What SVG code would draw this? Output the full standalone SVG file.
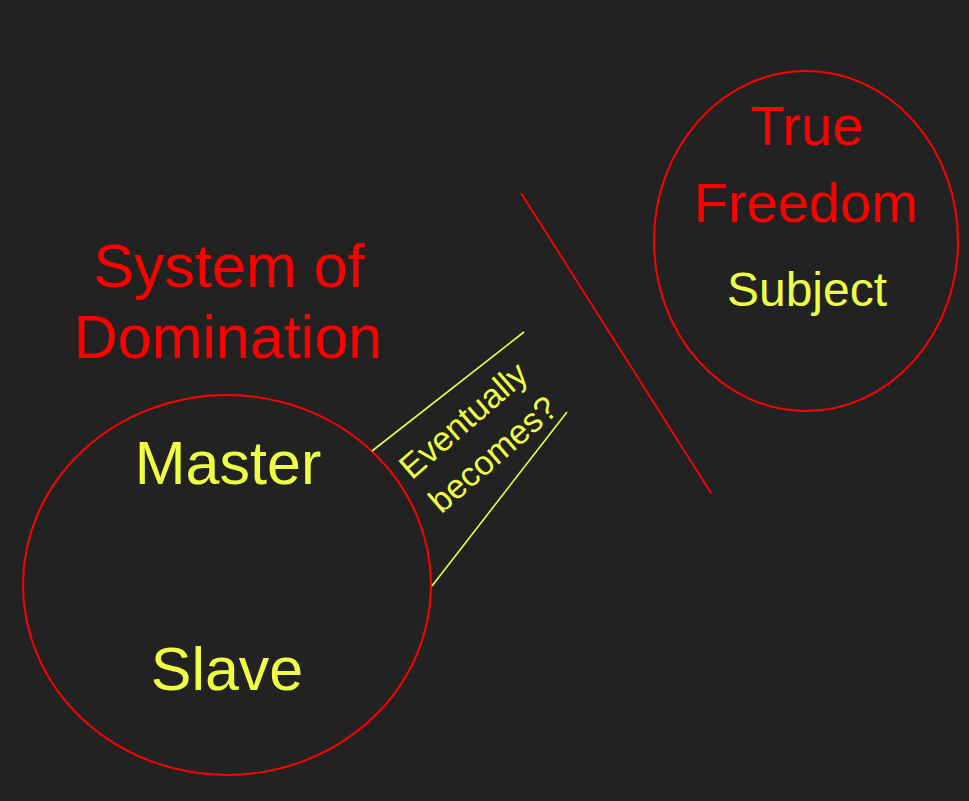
<svg xmlns="http://www.w3.org/2000/svg" width="969" height="801" viewBox="0 0 969 801">
  <style>
    text { font-family: "Liberation Sans", Arial, sans-serif; text-anchor: middle; }
    .red { fill: #ff0000; }
    .yel { fill: #eeff44; }
    .ring { fill: none; stroke: #ff0000; stroke-width: 2; }
    .yline { stroke: #eeff44; stroke-width: 1.6; fill: none; }
    .rline { stroke: #ff0000; stroke-width: 1.8; fill: none; }
  </style>
  <rect x="0" y="0" width="969" height="801" fill="#222222"/>

  <g id="system-of-domination-label">
    <text class="red" x="229" y="287" font-size="61">System of</text>
    <text class="red" x="228" y="358" font-size="61">Domination</text>
  </g>

  <g id="domination-circle">
    <ellipse class="ring" cx="227" cy="585" rx="204" ry="190"/>
    <text class="yel" x="228" y="484" font-size="61">Master</text>
    <text class="yel" x="227" y="690" font-size="61">Slave</text>
  </g>

  <g id="freedom-circle">
    <ellipse class="ring" cx="806" cy="241" rx="152" ry="170"/>
    <text class="red" x="807" y="145" font-size="56">True</text>
    <text class="red" x="806" y="222" font-size="56">Freedom</text>
    <text class="yel" x="807" y="306" font-size="48">Subject</text>
  </g>

  <g id="connectors">
    <line class="yline" x1="372" y1="451" x2="524" y2="332"/>
    <line class="yline" x1="432" y1="586" x2="567" y2="412"/>
    <line class="rline" x1="521" y1="193" x2="711" y2="493"/>
    <g id="becomes-label" transform="translate(471,429) rotate(-41)">
      <text class="yel" x="0" y="0" font-size="34">Eventually</text>
      <text class="yel" x="0" y="45" font-size="34">becomes?</text>
    </g>
  </g>
</svg>
